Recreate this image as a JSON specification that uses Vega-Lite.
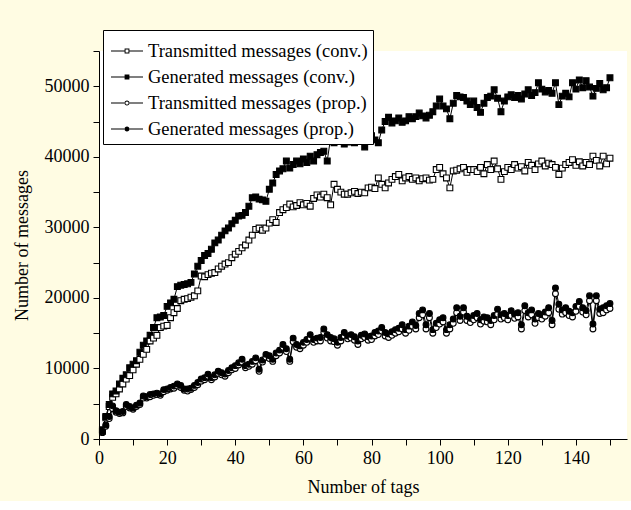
{
  "$schema": "https://vega.github.io/schema/vega-lite/v6.json",
  "width": 528,
  "height": 388,
  "padding": {"left": 13, "top": 29, "right": 5, "bottom": 5},
  "background": "#FFFCE3",
  "view": {"fill": "white", "stroke": null},
  "config": {
    "font": "Liberation Serif",
    "axis": {
      "domainColor": "black", "tickColor": "black", "labelColor": "black", "titleColor": "black",
      "labelFont": "Liberation Serif", "titleFont": "Liberation Serif",
      "labelFontSize": 18, "titleFontSize": 18, "titleFontWeight": "normal",
      "grid": false, "tickSize": 6, "labelPadding": 4, "domainWidth": 1, "tickWidth": 1
    },
    "legend": {
      "orient": "none", "legendX": 4, "legendY": -21,
      "padding": 5, "strokeColor": "black", "fillColor": "white",
      "labelFont": "Liberation Serif", "labelFontSize": 18.5, "labelColor": "black", "labelLimit": 0,
      "labelOffset": 5, "rowPadding": -2, "symbolSize": 1024, "symbolStrokeWidth": 0,
      "symbolFillColor": "black", "symbolOffset": 3
    }
  },
  "data": {"values": [
    {"t":1,"tc":1100,"gc":1300,"tp":900,"gp":1000},
    {"t":2,"tc":3000,"gc":3200,"tp":1800,"gp":2000},
    {"t":3,"tc":4600,"gc":4900,"tp":2900,"gp":3200},
    {"t":4,"tc":5900,"gc":6400,"tp":4300,"gp":4700},
    {"t":5,"tc":6400,"gc":6800,"tp":3800,"gp":4000},
    {"t":6,"tc":7100,"gc":7800,"tp":3600,"gp":3800},
    {"t":7,"tc":7800,"gc":8600,"tp":3700,"gp":3900},
    {"t":8,"tc":8500,"gc":9100,"tp":4600,"gp":4900},
    {"t":9,"tc":9000,"gc":10100,"tp":4400,"gp":4600},
    {"t":10,"tc":9800,"gc":10600,"tp":4200,"gp":4400},
    {"t":11,"tc":10600,"gc":11100,"tp":4600,"gp":4800},
    {"t":12,"tc":11300,"gc":12300,"tp":4900,"gp":5100},
    {"t":13,"tc":12000,"gc":13300,"tp":5800,"gp":6100},
    {"t":14,"tc":12700,"gc":13900,"tp":5800,"gp":6000},
    {"t":15,"tc":13900,"gc":14700,"tp":6000,"gp":6300},
    {"t":16,"tc":14300,"gc":15800,"tp":6200,"gp":6400},
    {"t":17,"tc":14700,"gc":17200,"tp":6300,"gp":6500},
    {"t":18,"tc":15800,"gc":17300,"tp":6200,"gp":6400},
    {"t":19,"tc":16000,"gc":17500,"tp":6700,"gp":7000},
    {"t":20,"tc":16100,"gc":18800,"tp":6900,"gp":7100},
    {"t":21,"tc":17200,"gc":19300,"tp":7100,"gp":7300},
    {"t":22,"tc":17900,"gc":19800,"tp":7200,"gp":7500},
    {"t":23,"tc":18500,"gc":21600,"tp":7500,"gp":7800},
    {"t":24,"tc":19600,"gc":21800,"tp":7300,"gp":7600},
    {"t":25,"tc":19800,"gc":21900,"tp":6900,"gp":7100},
    {"t":26,"tc":19900,"gc":22000,"tp":6800,"gp":7100},
    {"t":27,"tc":20100,"gc":22200,"tp":7000,"gp":7200},
    {"t":28,"tc":20300,"gc":23400,"tp":7300,"gp":7600},
    {"t":29,"tc":21000,"gc":24500,"tp":7700,"gp":8000},
    {"t":30,"tc":23100,"gc":25300,"tp":8200,"gp":8500},
    {"t":31,"tc":23000,"gc":26000,"tp":8400,"gp":8700},
    {"t":32,"tc":23300,"gc":26300,"tp":8900,"gp":9200},
    {"t":33,"tc":23500,"gc":26900,"tp":8400,"gp":8700},
    {"t":34,"tc":23600,"gc":27800,"tp":8800,"gp":9100},
    {"t":35,"tc":24100,"gc":28200,"tp":9300,"gp":9600},
    {"t":36,"tc":24500,"gc":28900,"tp":9100,"gp":9400},
    {"t":37,"tc":24800,"gc":29500,"tp":8900,"gp":9200},
    {"t":38,"tc":25000,"gc":29900,"tp":9400,"gp":9700},
    {"t":39,"tc":25700,"gc":30500,"tp":9800,"gp":10100},
    {"t":40,"tc":26200,"gc":31000,"tp":10000,"gp":10400},
    {"t":41,"tc":26600,"gc":31600,"tp":10500,"gp":10800},
    {"t":42,"tc":27100,"gc":31700,"tp":10900,"gp":11300},
    {"t":43,"tc":27500,"gc":32100,"tp":10100,"gp":10400},
    {"t":44,"tc":28200,"gc":33000,"tp":10300,"gp":10600},
    {"t":45,"tc":28900,"gc":34200,"tp":10600,"gp":11000},
    {"t":46,"tc":29700,"gc":34300,"tp":11100,"gp":11500},
    {"t":47,"tc":29900,"gc":34000,"tp":9600,"gp":9900},
    {"t":48,"tc":29600,"gc":33900,"tp":10900,"gp":11200},
    {"t":49,"tc":29900,"gc":33700,"tp":11600,"gp":12000},
    {"t":50,"tc":30600,"gc":35400,"tp":11400,"gp":11800},
    {"t":51,"tc":31100,"gc":36300,"tp":11000,"gp":11300},
    {"t":52,"tc":30700,"gc":37500,"tp":11800,"gp":12200},
    {"t":53,"tc":32100,"gc":38000,"tp":12200,"gp":12600},
    {"t":54,"tc":32500,"gc":38300,"tp":13000,"gp":13400},
    {"t":55,"tc":32800,"gc":39400,"tp":12400,"gp":12800},
    {"t":56,"tc":33300,"gc":38400,"tp":11000,"gp":11300},
    {"t":57,"tc":32900,"gc":38900,"tp":13800,"gp":14300},
    {"t":58,"tc":33100,"gc":39400,"tp":13000,"gp":13400},
    {"t":59,"tc":33500,"gc":39000,"tp":12800,"gp":13200},
    {"t":60,"tc":33200,"gc":39700,"tp":13300,"gp":13700},
    {"t":61,"tc":33400,"gc":39200,"tp":13700,"gp":14100},
    {"t":62,"tc":33000,"gc":40100,"tp":14300,"gp":14800},
    {"t":63,"tc":34100,"gc":39400,"tp":13700,"gp":14100},
    {"t":64,"tc":34600,"gc":40300,"tp":13900,"gp":14300},
    {"t":65,"tc":34300,"gc":40600,"tp":13900,"gp":14400},
    {"t":66,"tc":34700,"gc":40800,"tp":15100,"gp":15600},
    {"t":67,"tc":34200,"gc":39400,"tp":14300,"gp":14800},
    {"t":68,"tc":33200,"gc":42700,"tp":13900,"gp":14400},
    {"t":69,"tc":36100,"gc":42000,"tp":13800,"gp":14200},
    {"t":70,"tc":35400,"gc":42600,"tp":13300,"gp":13700},
    {"t":71,"tc":35000,"gc":42300,"tp":13900,"gp":14400},
    {"t":72,"tc":34700,"gc":41800,"tp":14600,"gp":15100},
    {"t":73,"tc":34700,"gc":42100,"tp":14200,"gp":14600},
    {"t":74,"tc":34900,"gc":42600,"tp":14300,"gp":14800},
    {"t":75,"tc":35100,"gc":42000,"tp":14000,"gp":14500},
    {"t":76,"tc":34800,"gc":42500,"tp":13400,"gp":13900},
    {"t":77,"tc":35000,"gc":42300,"tp":14200,"gp":14700},
    {"t":78,"tc":34900,"gc":41400,"tp":14400,"gp":14900},
    {"t":79,"tc":35600,"gc":42500,"tp":14000,"gp":14500},
    {"t":80,"tc":35700,"gc":43000,"tp":14100,"gp":14600},
    {"t":81,"tc":35500,"gc":42400,"tp":14600,"gp":15100},
    {"t":82,"tc":37000,"gc":42000,"tp":14800,"gp":15300},
    {"t":83,"tc":36100,"gc":43800,"tp":15300,"gp":15800},
    {"t":84,"tc":35600,"gc":45000,"tp":14600,"gp":15100},
    {"t":85,"tc":36300,"gc":45600,"tp":14400,"gp":14900},
    {"t":86,"tc":36800,"gc":44800,"tp":14700,"gp":15200},
    {"t":87,"tc":37200,"gc":45100,"tp":15000,"gp":15500},
    {"t":88,"tc":37500,"gc":45500,"tp":15200,"gp":15700},
    {"t":89,"tc":36600,"gc":44900,"tp":15600,"gp":16200},
    {"t":90,"tc":37000,"gc":45100,"tp":15000,"gp":15500},
    {"t":91,"tc":37200,"gc":45700,"tp":15400,"gp":16000},
    {"t":92,"tc":36800,"gc":45400,"tp":16000,"gp":16600},
    {"t":93,"tc":37000,"gc":45700,"tp":15600,"gp":16100},
    {"t":94,"tc":36600,"gc":46200,"tp":17200,"gp":17800},
    {"t":95,"tc":36900,"gc":45800,"tp":17600,"gp":18300},
    {"t":96,"tc":37000,"gc":45500,"tp":15600,"gp":16200},
    {"t":97,"tc":36700,"gc":45900,"tp":17200,"gp":17800},
    {"t":98,"tc":36800,"gc":46400,"tp":15000,"gp":15500},
    {"t":99,"tc":38200,"gc":47200,"tp":15800,"gp":16400},
    {"t":100,"tc":38500,"gc":48200,"tp":16300,"gp":16900},
    {"t":101,"tc":37600,"gc":47200,"tp":16600,"gp":17200},
    {"t":102,"tc":37000,"gc":46800,"tp":15000,"gp":15500},
    {"t":103,"tc":35600,"gc":45400,"tp":15600,"gp":16200},
    {"t":104,"tc":38000,"gc":47600,"tp":16400,"gp":17000},
    {"t":105,"tc":38100,"gc":48700,"tp":17900,"gp":18600},
    {"t":106,"tc":38300,"gc":48500,"tp":16800,"gp":17400},
    {"t":107,"tc":38500,"gc":48400,"tp":18000,"gp":18600},
    {"t":108,"tc":37800,"gc":47900,"tp":16800,"gp":17400},
    {"t":109,"tc":38200,"gc":47400,"tp":16500,"gp":17100},
    {"t":110,"tc":38200,"gc":47900,"tp":16900,"gp":17500},
    {"t":111,"tc":37900,"gc":47000,"tp":17200,"gp":17800},
    {"t":112,"tc":38500,"gc":46300,"tp":16300,"gp":16900},
    {"t":113,"tc":37600,"gc":47600,"tp":16700,"gp":17300},
    {"t":114,"tc":38900,"gc":48400,"tp":16600,"gp":17200},
    {"t":115,"tc":38200,"gc":48600,"tp":16200,"gp":16800},
    {"t":116,"tc":39400,"gc":49500,"tp":16900,"gp":17500},
    {"t":117,"tc":38300,"gc":48300,"tp":17700,"gp":18400},
    {"t":118,"tc":36800,"gc":46400,"tp":17000,"gp":17600},
    {"t":119,"tc":37900,"gc":47900,"tp":17200,"gp":17800},
    {"t":120,"tc":38500,"gc":48500,"tp":16900,"gp":17500},
    {"t":121,"tc":38200,"gc":48800,"tp":17500,"gp":18200},
    {"t":122,"tc":38900,"gc":48400,"tp":17100,"gp":17700},
    {"t":123,"tc":38400,"gc":48700,"tp":17300,"gp":17900},
    {"t":124,"tc":38600,"gc":48200,"tp":15600,"gp":16200},
    {"t":125,"tc":38000,"gc":48900,"tp":18200,"gp":18900},
    {"t":126,"tc":39200,"gc":49500,"tp":17300,"gp":17900},
    {"t":127,"tc":38800,"gc":48700,"tp":17600,"gp":18300},
    {"t":128,"tc":38200,"gc":49100,"tp":16400,"gp":17000},
    {"t":129,"tc":39000,"gc":50500,"tp":17200,"gp":17800},
    {"t":130,"tc":39400,"gc":49600,"tp":17000,"gp":17600},
    {"t":131,"tc":38700,"gc":49200,"tp":17400,"gp":18000},
    {"t":132,"tc":39100,"gc":49400,"tp":17900,"gp":18600},
    {"t":133,"tc":38900,"gc":49000,"tp":16200,"gp":16800},
    {"t":134,"tc":38500,"gc":50500,"tp":20600,"gp":21400},
    {"t":135,"tc":37500,"gc":47400,"tp":18400,"gp":19100},
    {"t":136,"tc":38400,"gc":48600,"tp":17700,"gp":18300},
    {"t":137,"tc":38900,"gc":49000,"tp":17900,"gp":18600},
    {"t":138,"tc":39200,"gc":48500,"tp":17500,"gp":18100},
    {"t":139,"tc":39600,"gc":50500,"tp":17300,"gp":17900},
    {"t":140,"tc":38800,"gc":49600,"tp":18100,"gp":18800},
    {"t":141,"tc":39300,"gc":50900,"tp":18800,"gp":19500},
    {"t":142,"tc":38700,"gc":49800,"tp":18000,"gp":18600},
    {"t":143,"tc":39200,"gc":50800,"tp":17600,"gp":18200},
    {"t":144,"tc":38900,"gc":49900,"tp":19600,"gp":20300},
    {"t":145,"tc":40100,"gc":48600,"tp":15600,"gp":16300},
    {"t":146,"tc":39500,"gc":49700,"tp":19600,"gp":20300},
    {"t":147,"tc":38700,"gc":50400,"tp":17800,"gp":18400},
    {"t":148,"tc":40100,"gc":49500,"tp":17900,"gp":18600},
    {"t":149,"tc":39000,"gc":49800,"tp":18300,"gp":18900},
    {"t":150,"tc":39800,"gc":51200,"tp":18500,"gp":19200}
  ]},
  "transform": [{"fold": ["tc", "gc", "tp", "gp"], "as": ["series", "value"]}],
  "encoding": {
    "x": {
      "field": "t", "type": "quantitative",
      "scale": {"domain": [0, 155], "nice": false, "zero": false},
      "axis": {
        "title": "Number of tags",
        "values": [0,10,20,30,40,50,60,70,80,90,100,110,120,130,140,150],
        "labelExpr": "datum.value % 20 === 0 ? datum.label : ''",
        "titlePadding": 11, "labelFlush": false
      }
    },
    "y": {
      "field": "value", "type": "quantitative",
      "scale": {"domain": [0, 55000], "nice": false},
      "axis": {
        "title": "Number of messages",
        "values": [0,5000,10000,15000,20000,25000,30000,35000,40000,45000,50000,55000],
        "labelExpr": "datum.value % 10000 === 0 ? format(datum.value, 'd') : ''",
        "titlePadding": 13, "labelFlush": false
      }
    }
  },
  "resolve": {"scale": {"shape": "independent"}, "legend": {"shape": "independent"}},
  "layer": [
    {
      "mark": {"type": "line", "stroke": "black", "strokeWidth": 1},
      "encoding": {"detail": {"field": "series", "type": "nominal"}}
    },
    {
      "mark": {"type": "point", "stroke": "black", "strokeWidth": 1.1, "opacity": 1, "size": 34},
      "encoding": {
        "shape": {
          "field": "series", "type": "nominal",
          "scale": {"domain": ["tc", "gc", "tp", "gp"], "range": ["square", "square", "circle", "circle"]},
          "legend": null
        },
        "fill": {
          "field": "series", "type": "nominal",
          "scale": {"domain": ["tc", "gc", "tp", "gp"], "range": ["white", "black", "white", "black"]},
          "legend": null
        }
      }
    },
    {
      "transform": [{"filter": "datum.t < 0"}],
      "mark": {"type": "point", "filled": true, "color": "black", "strokeWidth": 0, "opacity": 1},
      "encoding": {
        "shape": {
          "field": "series", "type": "nominal",
          "scale": {
            "domain": ["tc", "gc", "tp", "gp"],
            "range": [
              "M-1,-0.035H-0.14V0.035H-1Z M0.14,-0.035H1V0.035H0.14Z M-0.15,-0.15H0.15V0.15H-0.15Z M-0.09,-0.09V0.09H0.09V-0.09Z",
              "M-1,-0.035H-0.14V0.035H-1Z M0.14,-0.035H1V0.035H0.14Z M-0.15,-0.15H0.15V0.15H-0.15Z",
              "M-1,-0.035H-0.14V0.035H-1Z M0.14,-0.035H1V0.035H0.14Z M-0.16,0A0.16,0.16 0 1,0 0.16,0A0.16,0.16 0 1,0 -0.16,0Z M-0.1,0A0.1,0.1 0 1,1 0.1,0A0.1,0.1 0 1,1 -0.1,0Z",
              "M-1,-0.035H-0.14V0.035H-1Z M0.14,-0.035H1V0.035H0.14Z M-0.16,0A0.16,0.16 0 1,0 0.16,0A0.16,0.16 0 1,0 -0.16,0Z"
            ]
          },
          "legend": {
            "title": null,
            "labelExpr": "datum.value == 'tc' ? 'Transmitted messages (conv.)' : datum.value == 'gc' ? 'Generated messages (conv.)' : datum.value == 'tp' ? 'Transmitted messages (prop.)' : 'Generated messages (prop.)'"
          }
        }
      }
    }
  ]
}
